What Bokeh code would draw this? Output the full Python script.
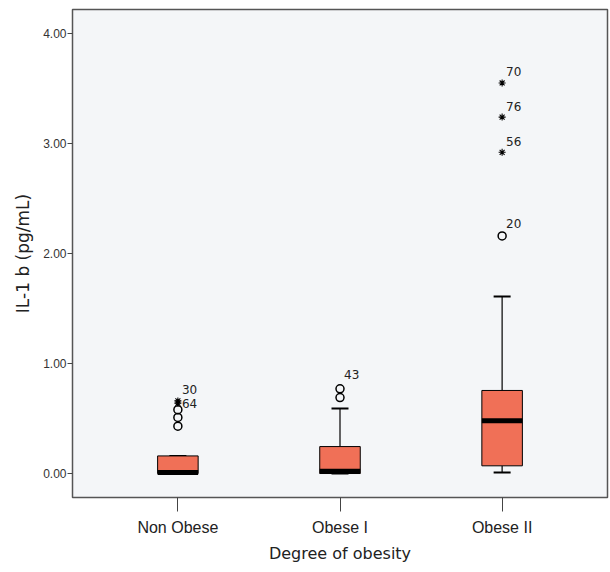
from bokeh.plotting import figure
from bokeh.models import FactorRange, Range1d, FixedTicker, NumeralTickFormatter, ColumnDataSource
from bokeh.core.properties import value
from bokeh.embed import file_html
from bokeh.resources import INLINE

# ---- data ----
categories = ["Non Obese", "Obese I", "Obese II"]
q1 = [0.0, 0.0, 0.07]
median = [0.01, 0.02, 0.48]
q3 = [0.16, 0.245, 0.755]
whisker_low = [0.0, 0.0, 0.01]
whisker_high = [0.16, 0.59, 1.61]

circle_cat = ["Non Obese", "Non Obese", "Non Obese", "Obese I", "Obese I", "Obese II"]
circle_val = [0.58, 0.51, 0.43, 0.77, 0.69, 2.16]

star_cat = ["Non Obese", "Non Obese", "Obese II", "Obese II", "Obese II"]
star_val = [0.66, 0.64, 3.55, 3.24, 2.92]

label_cat = ["Non Obese", "Non Obese", "Obese I", "Obese II", "Obese II", "Obese II", "Obese II"]
label_val = [0.66, 0.64, 0.77, 3.55, 3.24, 2.92, 2.16]
label_text = ["30", "64", "43", "70", "76", "56", "20"]
label_dy = [-11, 0, -14, -11, -11, -11, -12]

y_ticks = [0, 1, 2, 3, 4]

# ---- figure ----
p = figure(
    x_range=FactorRange(factors=categories, range_padding=0.1),
    y_range=Range1d(-0.218, 4.218),
    width=609, height=568,
    output_backend="svg", toolbar_location=None,
    min_border_left=72, min_border_right=2, min_border_top=9, min_border_bottom=71,
)
p.background_fill_color = "#f4f6f8"
p.border_fill_color = "#ffffff"
p.outline_line_color = "#555555"
p.outline_line_width = 1.5
p.xgrid.visible = False
p.ygrid.visible = False

box_color = "#f07057"

# whisker stems
p.segment(x0=categories, y0=q3, x1=categories, y1=whisker_high, line_color="black", line_width=1.2)
p.segment(x0=categories, y0=q1, x1=categories, y1=whisker_low, line_color="black", line_width=1.2)
# whisker caps
p.scatter(x=categories, y=whisker_high, marker="dash", size=17, line_color="black", line_width=2)
p.scatter(x=categories, y=whisker_low, marker="dash", size=17, line_color="black", line_width=2)
# boxes
p.vbar(x=categories, bottom=q1, top=q3, width=0.25, fill_color=box_color, line_color="black", line_width=1)
# medians
p.rect(x=categories, y=median, width=0.25, height=5, height_units="screen",
       fill_color="black", line_color=None)

# outliers
p.scatter(x=circle_cat, y=circle_val, marker="circle", size=8, fill_color=None,
          line_color="black", line_width=1.5)
p.scatter(x=star_cat, y=star_val, marker="asterisk", size=7, line_color="black", line_width=1.1)

src = ColumnDataSource(dict(x=label_cat, y=label_val, t=label_text, dy=label_dy))
p.text(x="x", y="y", text="t", source=src, x_offset=4, y_offset="dy",
       text_font=value("DejaVu Sans"), text_font_size="12px", text_color="#222222",
       text_baseline="middle", text_align="left")

# axes
p.yaxis.ticker = FixedTicker(ticks=y_ticks)
p.yaxis.formatter = NumeralTickFormatter(format="0.00")
p.yaxis.axis_line_color = None
p.yaxis.major_tick_out = 5
p.yaxis.major_tick_in = 0
p.yaxis.minor_tick_line_color = None
p.yaxis.major_tick_line_color = "#444444"
p.yaxis.major_label_standoff = 1
p.yaxis.major_label_text_font = "Liberation Sans"
p.yaxis.major_label_text_font_size = "12px"
p.yaxis.major_label_text_color = "#333333"
p.yaxis.axis_label = "IL-1 b (pg/mL)"
p.yaxis.axis_label_text_font = "DejaVu Sans"
p.yaxis.axis_label_text_font_size = "17px"
p.yaxis.axis_label_text_font_style = "normal"
p.yaxis.axis_label_text_color = "#222222"
p.yaxis.axis_label_standoff = 7

p.xaxis.axis_line_color = None
p.xaxis.major_tick_out = 14
p.xaxis.major_tick_in = 0
p.xaxis.major_tick_line_color = "#444444"
p.xaxis.major_label_standoff = 7
p.xaxis.major_label_text_font = "Liberation Sans"
p.xaxis.major_label_text_font_size = "16px"
p.xaxis.major_label_text_color = "#222222"
p.xaxis.axis_label = "Degree of obesity"
p.xaxis.axis_label_text_font = "DejaVu Sans"
p.xaxis.axis_label_text_font_size = "16px"
p.xaxis.axis_label_text_font_style = "normal"
p.xaxis.axis_label_text_color = "#222222"
p.xaxis.axis_label_standoff = 5

open("out.html", "w").write(file_html(p, INLINE))
